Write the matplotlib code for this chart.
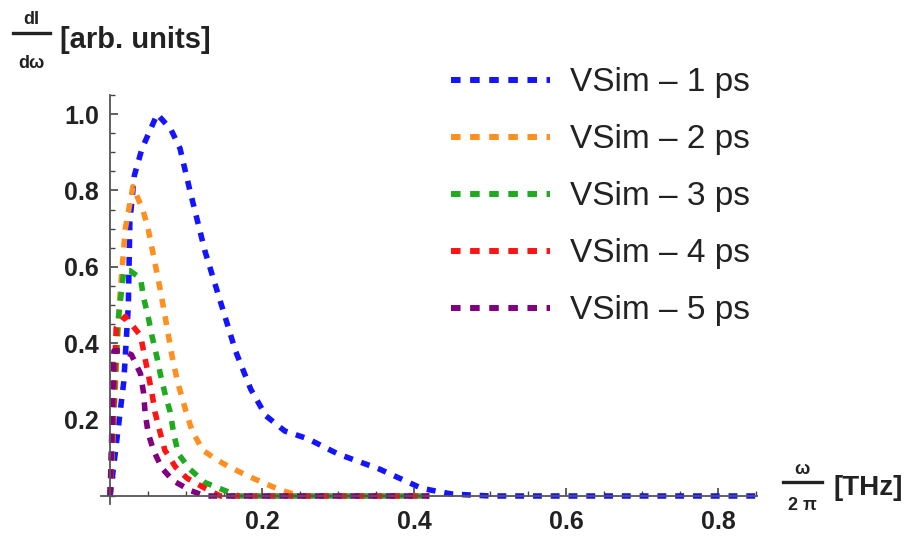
import matplotlib
matplotlib.use("Agg")
import matplotlib.pyplot as plt
from matplotlib.lines import Line2D
from matplotlib.ticker import MultipleLocator

plt.rcParams['font.family'] = ['Liberation Sans', 'DejaVu Sans']

# spectra (frequency in THz, intensity in arb. units)
x_1ps = [0, 0.018, 0.024, 0.026, 0.032, 0.042, 0.062, 0.08, 0.092, 0.105, 0.125, 0.145,
         0.165, 0.185, 0.205, 0.23, 0.26, 0.30, 0.355, 0.41, 0.45, 0.5, 0.85]
y_1ps = [0, 0.30, 0.50, 0.72, 0.84, 0.91, 1.0, 0.96, 0.91, 0.80, 0.64, 0.51,
         0.38, 0.28, 0.21, 0.17, 0.15, 0.11, 0.07, 0.02, 0.005, 0, 0]

x_2ps = [0, 0.012, 0.02, 0.03, 0.043, 0.05, 0.06, 0.066, 0.075, 0.083, 0.09, 0.1,
         0.108, 0.122, 0.14, 0.157, 0.184, 0.207, 0.225, 0.25, 0.42]
y_2ps = [0, 0.50, 0.70, 0.81, 0.75, 0.70, 0.60, 0.54, 0.44, 0.35, 0.29, 0.22,
         0.17, 0.12, 0.095, 0.076, 0.05, 0.03, 0.015, 0, 0]

x_3ps = [0, 0.01, 0.018, 0.026, 0.04, 0.044, 0.05, 0.055, 0.062, 0.066, 0.072, 0.079,
         0.084, 0.09, 0.105, 0.125, 0.15, 0.17, 0.42]
y_3ps = [0, 0.45, 0.59, 0.59, 0.57, 0.52, 0.47, 0.42, 0.36, 0.32, 0.27, 0.22,
         0.16, 0.11, 0.07, 0.035, 0.015, 0, 0]

x_4ps = [0, 0.008, 0.02, 0.04, 0.046, 0.05, 0.055, 0.059, 0.066, 0.072, 0.086, 0.101,
         0.125, 0.145, 0.42]
y_4ps = [0, 0.44, 0.47, 0.42, 0.36, 0.32, 0.27, 0.22, 0.165, 0.12, 0.076, 0.047,
         0.02, 0, 0]

x_5ps = [0, 0.005, 0.015, 0.028, 0.04, 0.044, 0.046, 0.05, 0.057, 0.068, 0.083, 0.105,
         0.125, 0.42]
y_5ps = [0, 0.38, 0.38, 0.37, 0.32, 0.27, 0.22, 0.165, 0.12, 0.073, 0.04, 0.015,
         0, 0]

labels = ['VSim – 1 ps', 'VSim – 2 ps', 'VSim – 3 ps', 'VSim – 4 ps', 'VSim – 5 ps']
colors = ['#1414ff', '#ff9020', '#20aa20', '#ff1414', '#800080']

series = [(x_1ps, y_1ps), (x_2ps, y_2ps), (x_3ps, y_3ps), (x_4ps, y_4ps), (x_5ps, y_5ps)]

fig = plt.figure(figsize=(9.05, 5.36), dpi=100)
ax = fig.add_axes([0.1116, 0.0604, 0.7254, 0.7623])

for (xs, ys), c in zip(series, colors):
    ax.plot(xs, ys, color=c, lw=4, dashes=(1.6, 1.6), dash_capstyle='butt', solid_capstyle='butt')

ax.set_xlim(-0.012, 0.852)
ax.set_ylim(-0.02, 1.05)

# Mathematica style axes crossing at the origin
for side in ['top', 'right']:
    ax.spines[side].set_visible(False)
ax.spines['left'].set_position(('data', 0))
ax.spines['bottom'].set_position(('data', 0))
for side in ['left', 'bottom']:
    ax.spines[side].set_color('#555555')
    ax.spines[side].set_linewidth(1.3)

ax.xaxis.set_minor_locator(MultipleLocator(0.05))
ax.yaxis.set_minor_locator(MultipleLocator(0.05))
ax.set_xticks([0.2, 0.4, 0.6, 0.8])
ax.set_xticklabels(['0.2', '0.4', '0.6', '0.8'])
ax.set_yticks([0.2, 0.4, 0.6, 0.8, 1.0])
ax.set_yticklabels(['0.2', '0.4', '0.6', '0.8', '1.0'])
ax.tick_params(which='both', direction='in', color='#444444', labelsize=18, labelcolor='#222222')
ax.tick_params(which='major', length=6, width=1.2)
ax.tick_params(which='minor', length=3.5, width=1)
for lab in ax.get_xticklabels() + ax.get_yticklabels():
    lab.set_fontweight('bold')
ax.tick_params(axis='y', pad=8)
ax.tick_params(axis='x', pad=10)

# y label: dI/dω [arb. units]
fig.text(31 / 905, 1 - 20 / 536, 'dI', ha='center', va='center', fontsize=13, fontweight='bold', color='#222222')
fig.add_artist(Line2D([13 / 905, 50 / 905], [1 - 33 / 536, 1 - 33 / 536], color='#222222', lw=2.4))
fig.text(31 / 905, 1 - 64 / 536, 'dω', ha='center', va='center', fontsize=13, fontweight='bold', color='#222222')
fig.text(60 / 905, 1 - 40 / 536, '[arb. units]', ha='left', va='center', fontsize=21, fontweight='bold', color='#222222')

# x label: ω/2π [THz]
fig.text(802 / 905, 1 - 469 / 536, 'ω', ha='center', va='center', fontsize=13, fontweight='bold', color='#222222')
fig.add_artist(Line2D([783 / 905, 822 / 905], [1 - 482 / 536, 1 - 482 / 536], color='#222222', lw=2.4))
fig.text(802 / 905, 1 - 505 / 536, '2 π', ha='center', va='center', fontsize=13, fontweight='bold', color='#222222')
fig.text(833 / 905, 1 - 488 / 536, '[THz]', ha='left', va='center', fontsize=20, fontweight='bold', color='#222222')

handles = [Line2D([], [], color=c, lw=4.3, dashes=(1.6, 1.6), dash_capstyle='butt') for c in colors]
fig.legend(handles, labels, loc='upper left', bbox_to_anchor=(438 / 905, 1 - 54 / 536),
           frameon=False, fontsize=24, handlelength=2.95, handletextpad=0.6,
           labelspacing=0.78, borderaxespad=0, labelcolor='#222222')

fig.savefig('out.png', dpi=100)
